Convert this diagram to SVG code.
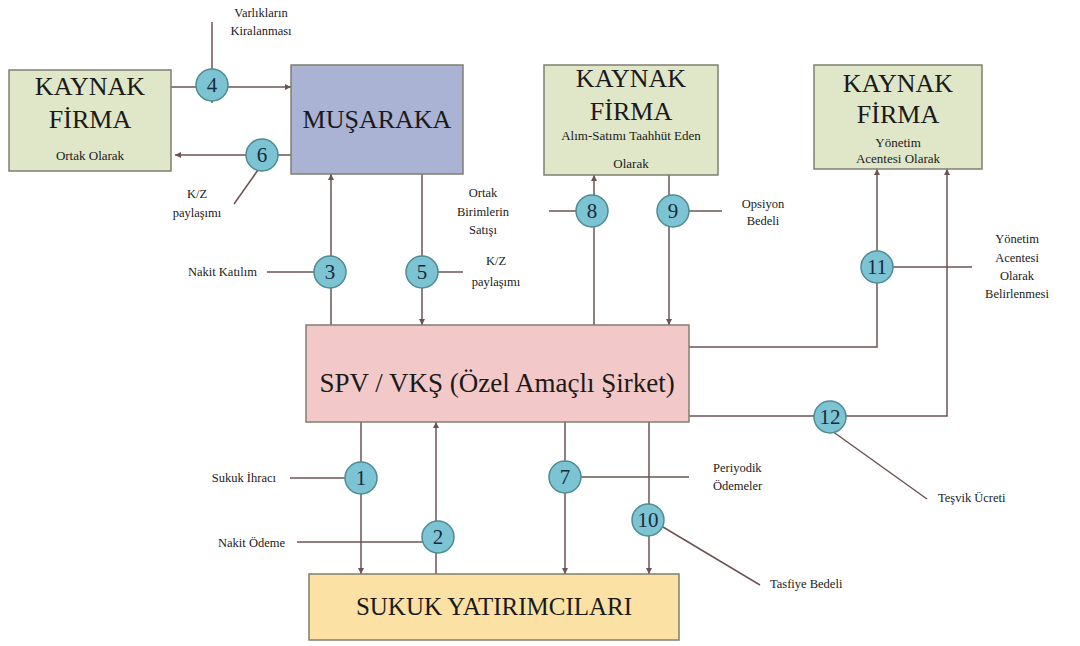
<svg xmlns="http://www.w3.org/2000/svg" width="1080" height="646" viewBox="0 0 1080 646" font-family="Liberation Serif, DejaVu Serif, serif">
<style>
.box{stroke:#7f7f6f;stroke-width:1.5}
.green{fill:#e0e7c9}
.t{fill:#1a1a1a;text-anchor:middle}
.big{font-size:26px}
.sm{font-size:13px}
.lbl{font-size:12.5px;fill:#1a1a1a}
.ln{stroke:#6d5353;stroke-width:1.5;fill:none}
.c{fill:#7cc4d4;stroke:#4f8a92;stroke-width:1.5}
.n{font-size:21px;fill:#1a2a3a;text-anchor:middle}
</style>
<defs>
<marker id="ah" viewBox="0 0 10 10" refX="10" refY="5" markerWidth="6" markerHeight="6" orient="auto" markerUnits="userSpaceOnUse">
<path d="M0,0 L10,5 L0,10 z" fill="#6d5353"/>
</marker>
</defs>
<rect width="1080" height="646" fill="#ffffff"/>

<g id="connectors">
<line class="ln" x1="212" y1="22" x2="212" y2="103"/>
<line class="ln" x1="171" y1="87" x2="291" y2="87" marker-end="url(#ah)"/>
<line class="ln" x1="291" y1="155" x2="175" y2="155" marker-end="url(#ah)"/>
<line class="ln" x1="258" y1="170" x2="234" y2="204"/>
<line class="ln" x1="331" y1="325" x2="331" y2="174" marker-end="url(#ah)"/>
<line class="ln" x1="267" y1="272" x2="331" y2="272"/>
<line class="ln" x1="422" y1="174" x2="422" y2="325" marker-end="url(#ah)"/>
<line class="ln" x1="422" y1="272" x2="463" y2="272"/>
<line class="ln" x1="594" y1="325" x2="594" y2="175" marker-end="url(#ah)"/>
<line class="ln" x1="549" y1="211" x2="594" y2="211"/>
<line class="ln" x1="669" y1="175" x2="669" y2="325" marker-end="url(#ah)"/>
<line class="ln" x1="669" y1="211" x2="722" y2="211"/>
<polyline class="ln" points="689,347 877,347 877,169" marker-end="url(#ah)"/>
<line class="ln" x1="877" y1="267" x2="972" y2="267"/>
<polyline class="ln" points="689,416 947,416 947,169" marker-end="url(#ah)"/>
<line class="ln" x1="832" y1="431" x2="927" y2="499"/>
<line class="ln" x1="361" y1="422" x2="361" y2="574" marker-end="url(#ah)"/>
<line class="ln" x1="290" y1="478" x2="361" y2="478"/>
<line class="ln" x1="436" y1="574" x2="436" y2="422" marker-end="url(#ah)"/>
<line class="ln" x1="297" y1="542" x2="436" y2="542"/>
<line class="ln" x1="565" y1="422" x2="565" y2="574" marker-end="url(#ah)"/>
<line class="ln" x1="565" y1="477" x2="689" y2="477"/>
<line class="ln" x1="649" y1="422" x2="649" y2="574" marker-end="url(#ah)"/>
<line class="ln" x1="663" y1="527" x2="760" y2="585"/>
</g>

<g id="kaynak-ortak">
<rect class="box green" x="9" y="70" width="162" height="101"/>
<text class="t big" x="90" y="95">KAYNAK</text>
<text class="t big" x="90" y="128">FİRMA</text>
<text class="t sm" x="90" y="160">Ortak Olarak</text>
</g>
<g id="musaraka">
<rect class="box" fill="#aab3d4" x="291" y="65" width="172" height="109"/>
<text class="t big" x="377" y="128">MUŞARAKA</text>
</g>
<g id="kaynak-alim">
<rect class="box green" x="544" y="65" width="174" height="110"/>
<text class="t big" x="631" y="87">KAYNAK</text>
<text class="t big" x="631" y="120">FİRMA</text>
<text class="t sm" x="631" y="140">Alım-Satımı Taahhüt Eden</text>
<text class="t sm" x="631" y="168">Olarak</text>
</g>
<g id="kaynak-yonetim">
<rect class="box green" x="814" y="65" width="168" height="104"/>
<text class="t big" x="898" y="92">KAYNAK</text>
<text class="t big" x="898" y="123">FİRMA</text>
<text class="t sm" x="898" y="147">Yönetim</text>
<text class="t sm" x="898" y="163">Acentesi Olarak</text>
</g>
<g id="spv">
<rect class="box" fill="#f2c9c8" x="306" y="325" width="383" height="97"/>
<text class="t" font-size="27" x="497" y="392">SPV / VKŞ (Özel Amaçlı Şirket)</text>
</g>
<g id="sukuk">
<rect class="box" fill="#fbe2a4" x="309" y="574" width="370" height="66"/>
<text class="t" font-size="25" x="494" y="615">SUKUK YATIRIMCILARI</text>
</g>

<g id="step4"><circle class="c" cx="212" cy="85" r="16"/><text class="n" x="212" y="92">4</text></g>
<g id="step6"><circle class="c" cx="262" cy="155" r="16"/><text class="n" x="262" y="162">6</text></g>
<g id="step3"><circle class="c" cx="330" cy="272" r="16"/><text class="n" x="330" y="279">3</text></g>
<g id="step5"><circle class="c" cx="422" cy="272" r="16"/><text class="n" x="422" y="279">5</text></g>
<g id="step8"><circle class="c" cx="592" cy="211" r="16"/><text class="n" x="592" y="218">8</text></g>
<g id="step9"><circle class="c" cx="673" cy="211" r="16"/><text class="n" x="673" y="218">9</text></g>
<g id="step11"><circle class="c" cx="877" cy="267" r="16"/><text class="n" x="877" y="274">11</text></g>
<g id="step12"><circle class="c" cx="830" cy="417" r="16"/><text class="n" x="830" y="424">12</text></g>
<g id="step1"><circle class="c" cx="361" cy="478" r="16"/><text class="n" x="361" y="485">1</text></g>
<g id="step2"><circle class="c" cx="438" cy="537" r="16"/><text class="n" x="438" y="544">2</text></g>
<g id="step7"><circle class="c" cx="565" cy="477" r="16"/><text class="n" x="565" y="484">7</text></g>
<g id="step10"><circle class="c" cx="648" cy="520" r="16"/><text class="n" x="648" y="527">10</text></g>

<g id="labels">
<text class="lbl" text-anchor="middle" x="261" y="17">Varlıkların</text>
<text class="lbl" text-anchor="middle" x="261" y="35">Kiralanması</text>
<text class="lbl" text-anchor="middle" x="197" y="198">K/Z</text>
<text class="lbl" text-anchor="middle" x="197" y="217">paylaşımı</text>
<text class="lbl" text-anchor="end" x="257" y="276">Nakit Katılım</text>
<text class="lbl" text-anchor="middle" x="496" y="265">K/Z</text>
<text class="lbl" text-anchor="middle" x="496" y="286">paylaşımı</text>
<text class="lbl" text-anchor="middle" x="483" y="197">Ortak</text>
<text class="lbl" text-anchor="middle" x="483" y="216">Birimlerin</text>
<text class="lbl" text-anchor="middle" x="483" y="234">Satışı</text>
<text class="lbl" text-anchor="middle" x="763" y="208">Opsiyon</text>
<text class="lbl" text-anchor="middle" x="763" y="225">Bedeli</text>
<text class="lbl" text-anchor="middle" x="1017" y="243">Yönetim</text>
<text class="lbl" text-anchor="middle" x="1017" y="262">Acentesi</text>
<text class="lbl" text-anchor="middle" x="1017" y="280">Olarak</text>
<text class="lbl" text-anchor="middle" x="1017" y="298">Belirlenmesi</text>
<text class="lbl" text-anchor="end" x="276" y="482">Sukuk İhracı</text>
<text class="lbl" text-anchor="end" x="285" y="547">Nakit Ödeme</text>
<text class="lbl" x="713" y="472">Periyodik</text>
<text class="lbl" x="713" y="490">Ödemeler</text>
<text class="lbl" x="770" y="588">Tasfiye Bedeli</text>
<text class="lbl" x="938" y="502">Teşvik Ücreti</text>
</g>
</svg>
